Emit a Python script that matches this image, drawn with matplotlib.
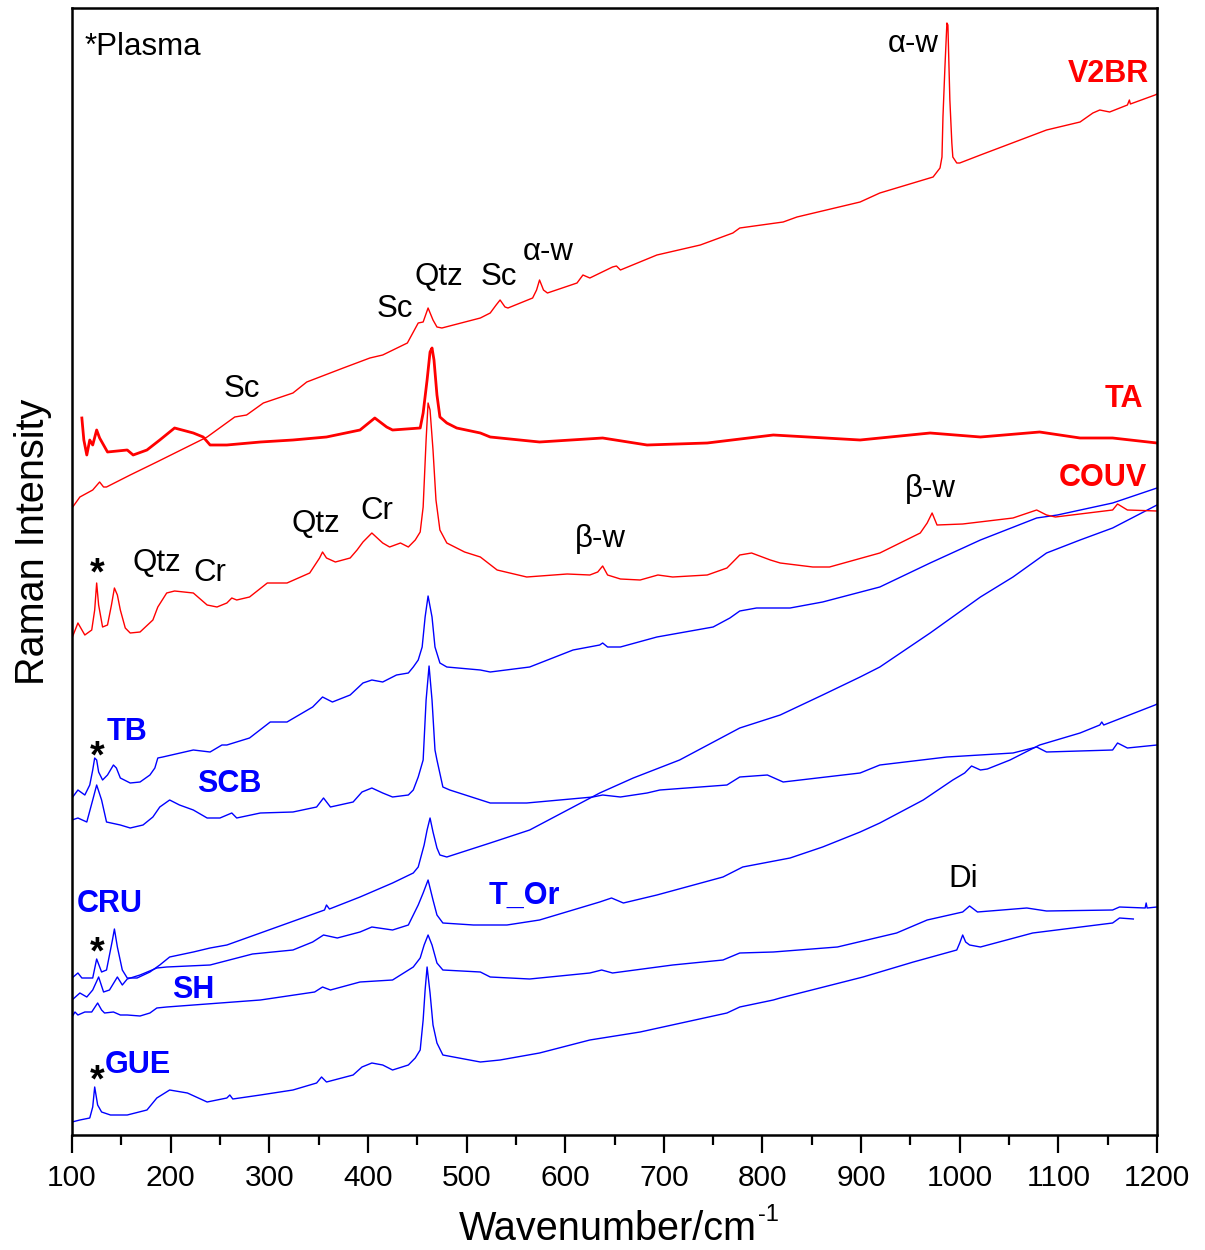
import matplotlib
matplotlib.use("Agg")
import matplotlib.pyplot as plt
from matplotlib.ticker import MultipleLocator

plt.rcParams['font.family'] = ['Liberation Sans', 'DejaVu Sans']
plt.rcParams['mathtext.default'] = 'regular'

# ---------------- data (wavenumber / cm-1, intensity a.u., offset-stacked) ----------------
v2br_wn = [100,108,121,128,132,135,159,186,237,265,277,294,324,338,375,402,415,440,451,456,
           461,466,470,475,514,524,530,534,539,542,567,571,574,578,582,612,618,625,648,652,
           656,693,737,770,777,821,835,899,919,973,980,982,983,985,987,988,990,992,993,997,
           1000,1021,1088,1122,1135,1142,1152,1170,1172,1173,1198,1200]
v2br_i = [627,638,645,653,648,648,660,673,698,718,720,732,742,753,767,777,780,792,812,813,
          827,815,808,807,817,822,830,835,828,827,837,845,855,845,842,852,860,857,868,869,
          865,880,890,902,907,913,918,933,942,958,967,978,1018,1068,1112,1110,1035,992,978,972,
          972,980,1005,1013,1022,1025,1023,1030,1035,1031,1040,1041]

ta_wn = [110,112,115,118,121,125,128,136,156,162,176,189,204,223,233,240,257,291,324,358,
         392,407,419,425,453,456,460,463,465,467,470,473,480,490,514,524,574,638,683,744,
         811,899,970,1021,1081,1122,1155,1200]
ta_i = [717,695,680,695,690,705,697,683,685,680,685,695,707,702,698,690,690,693,695,698,
        705,717,708,705,707,722,755,783,787,775,740,718,712,707,702,698,693,697,690,692,
        700,695,702,698,703,697,697,692]

couv_wn = [100,106,113,120,123,125,127,131,136,140,143,146,149,154,159,169,182,187,196,204,
           223,237,247,257,262,267,280,298,318,341,351,354,358,367,382,389,395,404,415,422,
           433,441,448,453,456,459,461,463,466,469,473,480,498,514,531,561,602,625,633,638,
           643,656,676,694,709,744,764,772,777,789,808,818,851,868,919,960,967,972,977,1003,
           1054,1078,1088,1097,1155,1160,1170,1200]
couv_i = [497,512,500,505,525,552,530,508,510,530,547,540,525,507,502,503,515,528,542,544,
          542,530,528,532,537,535,538,552,552,562,577,583,577,573,577,585,593,602,592,588,
          592,588,595,603,628,695,732,725,685,635,605,592,583,578,565,558,561,560,563,569,
          560,556,555,560,558,560,567,575,580,582,575,572,568,568,582,602,612,622,610,611,
          617,625,620,618,625,631,625,624]

tb_wn = [100,106,113,118,121,123,125,127,131,136,142,145,149,159,169,179,184,187,192,223,
         240,252,257,280,301,318,344,354,364,382,395,404,415,429,441,446,451,455,458,461,
         465,468,473,480,514,524,564,608,635,638,643,656,693,750,767,777,794,828,861,919,
         970,1021,1078,1099,1155,1200]
tb_i = [337,345,340,350,365,377,375,363,355,360,370,367,357,352,353,360,367,377,378,385,
        383,390,390,397,413,413,428,438,433,440,452,455,453,460,462,468,475,488,518,539,
        518,488,472,468,465,463,468,485,490,492,488,488,498,508,517,524,527,527,533,548,
        572,595,617,620,632,647]

scb_wn = [100,106,115,121,125,130,135,149,159,172,182,189,199,209,223,237,250,262,267,291,
          324,348,355,362,385,394,404,415,425,441,446,451,456,459,462,465,468,470,476,483,
          524,561,628,638,656,683,696,764,777,805,821,899,919,987,1054,1078,1088,1155,1160,1170,
          1200]
scb_i = [315,317,313,335,350,335,313,310,307,310,318,328,335,330,325,317,317,322,317,322,
         323,328,337,328,333,343,347,342,338,340,345,358,375,435,469,435,385,375,348,345,
         332,332,338,340,338,342,345,350,358,360,353,362,370,378,382,388,383,385,392,387,
         390]

cru_wn = [100,106,110,121,125,130,135,141,143,146,151,156,166,179,189,199,223,240,257,291,
          356,358,361,392,425,446,451,457,460,463,466,470,473,480,524,564,635,669,716,777,
          818,861,899,919,970,1021,1054,1088,1122,1155,1200]
cru_i = [157,162,157,157,176,163,165,195,206,188,165,157,157,163,170,178,183,187,190,202,
         225,230,226,238,252,262,268,290,305,317,303,287,280,278,292,305,342,357,375,407,
         420,440,458,468,502,538,558,582,595,607,630]

tor_wn = [100,108,115,121,127,132,138,146,151,156,169,186,196,240,283,324,344,355,369,392,
          404,425,441,451,456,461,466,470,476,507,541,574,635,647,659,693,760,780,828,861,
          899,919,963,993,1005,1012,1021,1028,1051,1081,1122,1142,1144,1146,1198,1200]
tor_i = [135,142,138,145,158,143,145,158,150,156,160,167,168,170,181,185,193,200,197,203,
         208,205,210,230,242,255,235,220,212,210,210,215,233,237,232,240,258,268,277,288,
         303,312,335,355,362,369,365,366,375,390,402,410,413,410,430,431]

sh_wn = [100,103,106,113,120,126,130,133,142,149,156,169,179,186,196,291,346,354,362,392,
         425,446,453,457,461,465,470,476,514,524,564,625,637,648,709,760,777,811,876,936,
         967,1003,1010,1018,1068,1088,1155,1162,1188,1189,1190,1200]
sh_i = [118,123,120,123,123,132,125,122,123,120,120,119,122,127,128,135,143,148,145,153,
        155,168,177,190,200,190,172,165,163,158,156,162,165,162,170,175,182,183,188,202,
        215,223,229,223,227,224,225,228,227,232,227,228]

gue_wn = [100,108,118,121,123,126,130,139,156,176,186,199,217,237,257,260,263,291,324,348,
          353,358,385,394,404,415,425,441,448,453,456,458,460,463,466,470,476,514,534,574,
          625,676,764,777,811,818,902,953,997,1000,1003,1006,1010,1021,1074,1155,1162,1176]
gue_i = [13,15,17,28,48,30,23,20,20,25,37,45,42,33,37,40,36,40,45,52,
         58,53,60,68,72,70,65,70,77,85,115,145,168,142,110,92,80,73,75,82,
         95,103,122,128,135,137,158,173,185,192,200,193,190,188,202,212,217,216]

x_ticks = [100,200,300,400,500,600,700,800,900,1000,1100,1200]

# ---------------- figure ----------------
fig = plt.figure(figsize=(12.05, 12.5), dpi=100)
ax = fig.add_axes([72/1205, 115/1250, 1085/1205, 1127/1250])

RED = '#ff0000'
BLUE = '#0000ff'

kw = dict(lw=1.0, solid_joinstyle='round')
ax.plot(gue_wn, gue_i, color=BLUE, **kw)
ax.plot(sh_wn, sh_i, color=BLUE, **kw)
ax.plot(tor_wn, tor_i, color=BLUE, **kw)
ax.plot(cru_wn, cru_i, color=BLUE, **kw)
ax.plot(scb_wn, scb_i, color=BLUE, **kw)
ax.plot(tb_wn, tb_i, color=BLUE, **kw)
ax.plot(couv_wn, couv_i, color=RED, **kw)
ax.plot(ta_wn, ta_i, color=RED, lw=2.0, solid_joinstyle='round')
ax.plot(v2br_wn, v2br_i, color=RED, **kw)

ax.set_xlim(100, 1200)
ax.set_ylim(0, 1127)
ax.set_yticks([])
ax.set_xticks(x_ticks)
ax.set_xticklabels([str(t) for t in x_ticks])
ax.xaxis.set_minor_locator(MultipleLocator(50))
ax.tick_params(axis='x', which='major', direction='out', length=13, width=1.6,
               labelsize=21.5, pad=8)
ax.tick_params(axis='x', which='minor', direction='out', length=7, width=1.6)
for sp in ax.spines.values():
    sp.set_linewidth(1.8)

# annotations (black)
ann_fs = 22.5
black_txt = [
    ("*Plasma", 113, 1080, 'left'),
    ("α-w", 953, 1083, 'center'),
    ("Sc", 272, 738, 'center'),
    ("Sc", 427, 818, 'center'),
    ("Qtz", 472, 850, 'center'),
    ("Sc", 533, 850, 'center'),
    ("α-w", 583, 875, 'center'),
    ("Qtz", 186, 564, 'center'),
    ("Cr", 240, 554, 'center'),
    ("Qtz", 347, 603, 'center'),
    ("Cr", 409, 616, 'center'),
    ("β-w", 636, 588, 'center'),
    ("β-w", 970, 638, 'center'),
    ("Di", 1004, 248, 'center'),
]
for s, x, y, ha in black_txt:
    ax.text(x, y, s, fontsize=ann_fs, color='black', ha=ha, va='baseline')

# plasma-line markers
star_txt = [(125, 551), (125, 368), (125, 172), (125, 44)]
for x, y in star_txt:
    ax.text(x, y, "*", fontsize=27, fontweight='bold', color='black', ha='center', va='baseline')

# sample labels (bold)
lab_fs = 22
sample_txt = [
    ("V2BR", 1192, 1053, 'right', RED),
    ("TA", 1186, 728, 'right', RED),
    ("COUV", 1190, 649, 'right', RED),
    ("TB", 135.5, 395, 'left', BLUE),
    ("SCB", 227, 343, 'left', BLUE),
    ("CRU", 105, 223, 'left', BLUE),
    ("T_Or", 522, 231, 'left', BLUE),
    ("SH", 202, 137, 'left', BLUE),
    ("GUE", 133.5, 62, 'left', BLUE),
]
for s, x, y, ha, c in sample_txt:
    ax.text(x, y, s, fontsize=lab_fs, color=c, ha=ha, va='baseline', fontweight='bold')

fig.text(757/1205, 10/1250, "Wavenumber/cm", fontsize=28.5, ha='right', va='baseline')
fig.text(758/1205, 1 - 1221/1250, "-1", fontsize=17, ha='left', va='baseline')
fig.text(33/1205, 1 - 542/1250, "Raman Intensity", fontsize=28.5, rotation=90,
         ha='center', va='center')

fig.savefig("out.png", dpi=100)
